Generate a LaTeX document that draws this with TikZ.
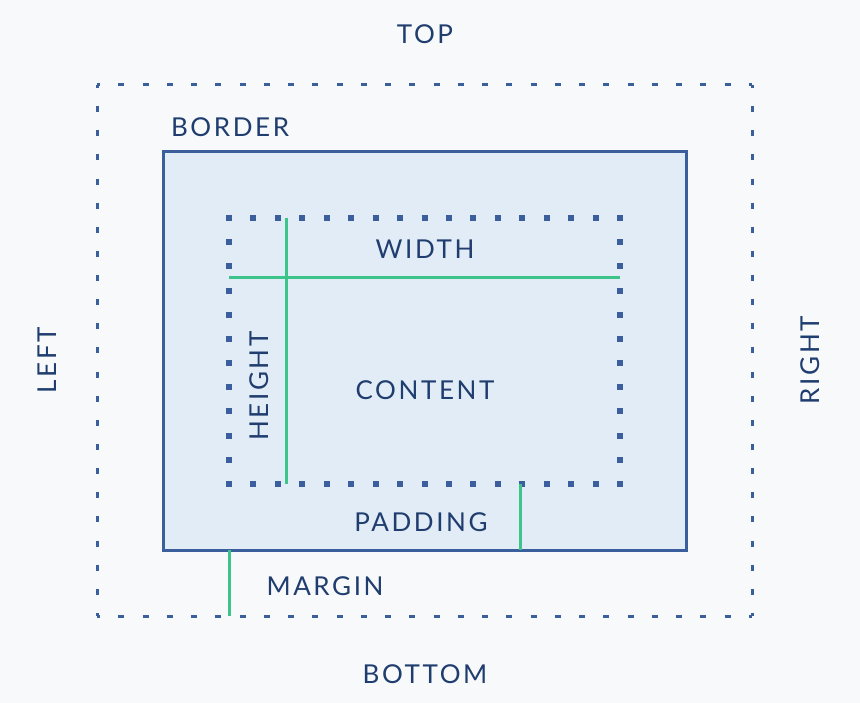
\documentclass[tikz,border=0pt]{standalone}
\usepackage{fontspec}
\setmainfont[LetterSpace=10]{Lato}
\usepackage{tikz}
\usetikzlibrary{positioning}

\definecolor{bgcol}{HTML}{F8F9FB}
\definecolor{boxfill}{HTML}{E2ECF6}
\definecolor{boxline}{HTML}{3B5E9C}
\definecolor{labelcol}{HTML}{1F3D6E}
\definecolor{measure}{HTML}{3CC48A}

\begin{document}
\begin{tikzpicture}[
    x=1pt, y=-1pt,
    font=\fontsize{26}{30}\selectfont,
    lbl/.style={text=labelcol, inner sep=0pt, anchor=center},
    marginh/.style={draw=boxline, line width=3pt, dash pattern=on 6pt off 18.259pt, dash phase=3pt},
    marginv/.style={draw=boxline, line width=3pt, dash pattern=on 6pt off 18.136pt, dash phase=3pt},
    borderbox/.style={draw=boxline, line width=3pt, fill=boxfill},
    contenth/.style={draw=boxline, line width=6pt, dash pattern=on 6pt off 18.4375pt},
    contentv/.style={draw=boxline, line width=6pt, dash pattern=on 6pt off 18.18pt},
    measureline/.style={draw=measure, line width=3pt}
]
\fill[bgcol] (0,0) rectangle (860,703);
\useasboundingbox (0,0) rectangle (860,703);

% margin box corners
\coordinate (m1) at (97,85);
\coordinate (m2) at (752,85);
\coordinate (m3) at (752,616);
\coordinate (m4) at (97,616);
% content box corners
\coordinate (c1) at (229,218);
\coordinate (c2) at (620,218);
\coordinate (c3) at (620,484);
\coordinate (c4) at (229,484);

% boxes
\draw[marginh] (m1) -- (m2);
\draw[marginh] (m4) -- (m3);
\draw[marginv] (m1) -- (m4);
\draw[marginv] (m2) -- (m3);
\draw[borderbox] (163,152) rectangle (686,550);
\draw[contenth] ([xshift=-3pt]c1) -- ([xshift=3pt]c2);
\draw[contenth] ([xshift=-3pt]c4) -- ([xshift=3pt]c3);
\draw[contentv] ([yshift=3pt]c1) -- ([yshift=-3pt]c4);
\draw[contentv] ([yshift=3pt]c2) -- ([yshift=-3pt]c3);

% ends of the measure lines
\coordinate (wL) at (229,278);
\coordinate (wR) at (620,278);
\coordinate (hT) at (286,218);
\coordinate (hB) at (286,484);
\coordinate (pT) at (520,484);
\coordinate (pB) at (520,550);
\coordinate (mT) at (229,550);
\coordinate (mB) at (229,616);

\draw[measureline] (wL) -- (wR);
\draw[measureline] (hT) -- (hB);
\draw[measureline] (pT) -- (pB);
\draw[measureline] (mT) -- (mB);

% labels
\node[lbl] (top) at (425,34) {TOP};
\node[lbl] (bottom) at (425,674) {BOTTOM};
\node[lbl, rotate=90] (left) at (47,360) {LEFT};
\node[lbl, rotate=90] (right) at (810,360) {RIGHT};
\node[lbl] (border) at (230,127) {BORDER};
\node[lbl] (width) at (425,249) {WIDTH};
\node[lbl] (content) at (425,390) {CONTENT};
\node[lbl, rotate=90] (height) at (259,386) {HEIGHT};
\node[lbl] (padding) at (421,522) {PADDING};
\node[lbl] (margin) at (325,586) {MARGIN};
\end{tikzpicture}
\end{document}
